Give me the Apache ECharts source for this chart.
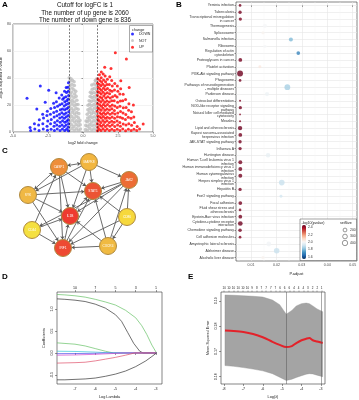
<!DOCTYPE html>
<html><head><meta charset="utf-8">
<script src="https://cdn.jsdelivr.net/npm/echarts/dist/echarts.min.js"></script>
<style>html,body{margin:0;padding:0;background:#fff}#c{width:359px;height:400px}</style>
</head><body><div id="c"></div>
<script>
// ---------- Panel A: volcano ----------
const cutoff = 1, upCount = 2060, downCount = 836;
const notPts = [[-0.95,1.0],[-0.97,4.2],[-0.94,7.1],[-0.96,10.3],[-0.93,13.0],[-0.97,16.4],[-0.95,19.2],[-0.94,22.5],[-0.96,25.1],[-0.93,28.3],[-0.97,31.4],[-0.95,34.2],[-0.94,37.6],[-0.98,40.1],
[-0.79,2.6],[-0.81,5.4],[-0.78,8.7],[-0.80,11.5],[-0.77,14.6],[-0.81,17.3],[-0.79,20.8],[-0.78,23.4],[-0.80,26.7],[-0.82,29.5],[-0.78,32.6],[-0.80,35.4],[-0.76,38.3],[-0.86,39.5],
[-0.63,1.2],[-0.65,4.1],[-0.62,7.4],[-0.64,10.2],[-0.61,13.3],[-0.65,16.1],[-0.63,19.5],[-0.62,22.2],[-0.64,25.4],[-0.60,28.1],[-0.66,31.3],[-0.62,34.5],[-0.64,37.2],
[-0.47,2.4],[-0.49,5.6],[-0.46,8.3],[-0.48,11.7],[-0.45,14.4],[-0.50,17.6],[-0.47,20.3],[-0.44,23.5],[-0.49,26.4],[-0.52,30.1],
[-0.32,1.3],[-0.34,4.4],[-0.31,7.2],[-0.33,10.5],[-0.30,13.6],[-0.35,16.8],[-0.36,20.4],
[-0.18,2.2],[-0.20,5.3],[-0.22,8.6],
[0.18,1.8],[0.20,4.9],[0.22,8.1],
[0.32,1.1],[0.33,4.3],[0.31,7.6],[0.34,10.4],[0.30,13.2],[0.35,16.5],[0.36,19.8],
[0.47,2.7],[0.48,5.5],[0.46,8.8],[0.49,11.4],[0.45,14.7],[0.50,17.5],[0.47,20.6],[0.44,23.2],[0.51,26.3],[0.53,29.4],
[0.63,1.4],[0.64,4.6],[0.62,7.3],[0.65,10.6],[0.61,13.4],[0.66,16.2],[0.63,19.4],[0.60,22.7],[0.64,25.5],[0.62,28.6],[0.66,31.7],[0.63,34.8],
[0.79,2.3],[0.80,5.2],[0.78,8.4],[0.81,11.3],[0.77,14.5],[0.82,17.7],[0.79,20.5],[0.78,23.6],[0.80,26.2],[0.76,29.3],[0.81,32.4],[0.79,35.6],[0.88,38.1],
[0.95,1.5],[0.96,4.4],[0.94,7.5],[0.97,10.1],[0.93,13.5],[0.96,16.3],[0.95,19.6],[0.94,22.4],[0.97,25.3],[0.93,28.5],[0.96,31.2],[0.95,34.6],[0.94,37.8],[0.97,39.2]];
const downPts = [[-1.04,1.0],[-1.06,3.6],[-1.03,6.2],[-1.07,9.1],[-1.05,12.3],[-1.02,15.0],[-1.06,18.2],[-1.04,21.1],[-1.07,24.3],[-1.03,27.0],[-1.05,30.2],[-1.08,33.1],[-1.04,36.5],
[-1.17,2.1],[-1.20,5.2],[-1.16,8.0],[-1.19,11.3],[-1.21,14.1],[-1.17,17.2],[-1.20,20.4],[-1.16,23.1],[-1.22,26.2],[-1.18,29.3],[-1.20,33.0],
[-1.31,1.2],[-1.34,4.1],[-1.30,7.3],[-1.33,10.2],[-1.35,13.1],[-1.31,16.4],[-1.34,19.2],[-1.30,22.5],[-1.36,25.3],[-1.32,30.1],
[-1.47,2.2],[-1.50,5.1],[-1.46,8.4],[-1.49,11.2],[-1.51,14.3],[-1.47,17.1],[-1.50,21.0],[-1.45,24.2],[-1.52,27.4],
[-1.64,1.1],[-1.67,4.3],[-1.63,7.2],[-1.66,10.4],[-1.68,13.2],[-1.62,16.5],[-1.66,20.1],[-1.70,25.2],
[-1.84,2.3],[-1.87,5.1],[-1.83,8.4],[-1.86,12.1],[-1.88,15.3],[-1.82,19.0],[-1.90,22.4],
[-2.04,1.2],[-2.07,4.3],[-2.02,7.1],[-2.06,11.2],[-2.09,14.4],[-2.03,18.1],[-2.10,21.3],
[-2.28,2.1],[-2.32,6.2],[-2.27,9.3],[-2.33,13.1],[-2.30,17.4],
[-2.54,1.3],[-2.57,4.2],[-2.52,8.1],[-2.58,12.2],[-2.55,15.3],
[-2.84,2.2],[-2.87,6.1],[-2.82,10.3],[-2.88,13.2],
[-3.14,1.1],[-3.17,5.2],[-3.12,9.1],[-3.44,2.3],[-3.47,6.2],[-3.74,1.2],[-3.78,3.4],
[-2.45,31],[-3.05,34],[-4.0,25],[-2.7,22],[-3.3,17],[-1.92,29]];
const upPts = [[1.04,1.0],[1.06,3.5],[1.03,6.1],[1.07,9.2],[1.05,12.1],[1.02,15.3],[1.06,18.0],[1.04,21.2],[1.07,24.1],[1.03,27.3],[1.05,30.0],[1.08,33.2],[1.04,36.1],[1.06,39.5],
[1.16,2.1],[1.19,5.2],[1.15,8.1],[1.18,11.3],[1.20,14.0],[1.16,17.2],[1.19,20.1],[1.15,23.3],[1.21,26.0],[1.17,29.2],[1.19,32.1],[1.15,35.3],[1.20,38.2],[1.17,42.5],
[1.29,1.1],[1.32,4.2],[1.28,7.0],[1.31,10.3],[1.33,13.1],[1.29,16.2],[1.32,19.0],[1.28,22.3],[1.34,25.1],[1.30,28.2],[1.32,31.0],[1.28,34.3],[1.33,37.1],[1.30,40.2],[1.31,44.5],
[1.43,2.5],[1.46,5.4],[1.42,8.6],[1.45,11.5],[1.47,14.3],[1.43,17.6],[1.46,20.4],[1.42,23.5],[1.48,26.6],[1.44,29.4],[1.46,32.5],[1.42,35.3],[1.47,38.6],[1.44,43.0],
[1.57,1.2],[1.60,4.1],[1.56,7.3],[1.59,10.1],[1.61,13.2],[1.57,16.1],[1.60,19.3],[1.56,22.0],[1.62,25.2],[1.58,28.1],[1.60,31.3],[1.56,34.0],[1.61,37.2],[1.58,41.5],
[1.72,2.2],[1.75,5.1],[1.71,8.3],[1.74,11.0],[1.76,14.2],[1.72,17.1],[1.75,20.3],[1.71,23.0],[1.77,26.2],[1.73,29.1],[1.75,32.3],[1.71,35.1],[1.74,39.0],
[1.89,1.1],[1.92,4.3],[1.88,7.0],[1.91,10.2],[1.93,13.1],[1.89,16.3],[1.92,19.0],[1.88,22.2],[1.94,25.1],[1.90,28.3],[1.92,31.0],[1.88,35.2],[1.91,41.0],
[2.06,2.1],[2.09,5.3],[2.05,8.0],[2.08,11.2],[2.10,14.1],[2.06,17.3],[2.09,20.0],[2.05,23.2],[2.11,26.1],[2.07,30.2],[2.09,34.0],[2.05,38.1],
[2.24,1.2],[2.27,4.0],[2.23,7.2],[2.26,10.1],[2.28,13.3],[2.24,16.0],[2.27,19.2],[2.23,23.1],[2.29,27.0],[2.25,31.2],[2.27,36.0],
[2.44,2.0],[2.47,5.2],[2.43,8.1],[2.46,11.3],[2.48,14.0],[2.44,18.2],[2.47,22.1],[2.43,26.0],[2.49,30.2],[2.45,34.1],
[2.64,1.1],[2.67,4.2],[2.63,7.1],[2.66,11.0],[2.68,15.2],[2.64,19.1],[2.67,23.0],[2.63,28.1],[2.69,32.0],
[2.84,2.2],[2.87,6.0],[2.83,10.2],[2.86,14.1],[2.88,18.0],[2.84,23.2],[2.87,28.0],
[3.04,1.0],[3.07,5.1],[3.03,9.2],[3.06,13.0],[3.08,18.1],[3.04,24.0],
[3.24,2.1],[3.27,6.2],[3.23,11.0],[3.26,16.1],[3.28,21.0],
[3.44,1.2],[3.47,5.0],[3.43,10.1],[3.46,15.0],[3.64,2.0],[3.67,7.1],[3.63,11.2],[3.84,1.1],[3.87,4.0],[4.04,2.2],
[2.31,58.7],[3.1,54],[2.0,47],[1.55,48],[3.3,33],[2.7,38],[3.6,20],[4.3,6]];
const aXTicks = [-5, -2.5, 0, 2.5, 5];
const aYTicks = [0, 20, 40, 60, 80];

// ---------- Panel B: KEGG bubble ----------
const bPathways = ['Yersinia infection','Tuberculosis','Transcriptional misregulation\nin cancer','Thermogenesis','Spliceosome','Salmonella infection','Ribosome','Regulation of actin\ncytoskeleton','Proteoglycans in cancer','Platelet activation','PI3K-Akt signaling pathway','Phagosome','Pathways of neurodegeneration\n- multiple diseases','Parkinson disease','Osteoclast differentiation','NOD-like receptor signaling\npathway','Natural killer cell mediated\ncytotoxicity','Measles','Lipid and atherosclerosis','Kaposi sarcoma-associated\nherpesvirus infection','JAK-STAT signaling pathway','Influenza A','Huntington disease','Human T-cell leukemia virus 1\ninfection','Human immunodeficiency virus 1\ninfection','Human cytomegalovirus\ninfection','Herpes simplex virus 1\ninfection','Hepatitis B','FoxO signaling pathway','Focal adhesion','Fluid shear stress and\natherosclerosis','Epstein-Barr virus infection','Cytokine-cytokine receptor\ninteraction','Chemokine signaling pathway','Cell adhesion molecules','Amyotrophic lateral sclerosis','Alzheimer disease','Alcoholic liver disease'];
const bPadj = [0.0057,0.0057,0.0058,0.0155,0.0147,0.0257,0.0155,0.0286,0.0058,0.0135,0.0057,0.0057,0.0243,0.0163,0.0057,0.0058,0.0057,0.0057,0.0057,0.0058,0.0057,0.0057,0.0167,0.0058,0.0058,0.0058,0.0221,0.0057,0.0218,0.0058,0.0057,0.0058,0.0058,0.0057,0.0057,0.0170,0.0201,0.0147];
const bLogP = [2.45,2.45,2.44,2.00,2.02,1.80,2.00,1.70,2.45,2.05,2.46,2.45,1.85,1.98,2.44,2.45,2.44,2.44,2.46,2.45,2.45,2.45,1.97,2.45,2.45,2.45,1.90,2.45,1.92,2.45,2.44,2.45,2.46,2.45,2.44,1.99,1.90,2.02];
const bSetSize = [100,150,150,230,130,220,150,190,190,120,480,100,460,250,60,150,45,60,260,190,150,150,280,210,210,210,440,150,120,190,100,190,300,170,100,320,420,150];
const bXTicks = [0.01,0.02,0.03,0.04,0.05];
const bXMinor = [0.005,0.015,0.025,0.035,0.045];
const bColorTicks = [2.4,2.2,2.0,1.8,1.6];
const bSizeLegend = [200,300,400];

// ---------- Panel C: PPI network ----------
const cNodes = ['CASP1','MAPK8','JAK2','STAT1','SYK','IL1B','CD86','CD44','IRF1','CXCR4'];
const cNodeX = [59,89,129,93,28,70,127,32,63,108];
const cNodeY = [19,14,32,43,47,68,69,82,100,98];
const cNodeColor = ['#EE8E3A','#F2B640','#EC6C34','#EC5434','#F0B844','#EE3A30','#F6D83C','#F5E040','#EE4A32','#F0BA42'];
const cEdges = [[1,0],[1,2],[1,4],[1,5],[1,3],[0,4],[0,3],[0,5],[0,8],[7,0],[4,3],[4,5],[4,8],[2,3],[2,5],[2,7],[2,8],[6,2],[6,3],[6,9],[6,8],[7,5],[7,8],[8,3],[8,5],[9,3],[9,5],[9,8],[9,2],[5,3]];
const cBidir = [[0,4],[1,0]];

// ---------- Panel D: LASSO coefficient paths ----------
const dTopPos = [-7,-6,-5,-4,-3];
const dTopLab = ['10','7','5','3','1'];
const dXTicks = [-7,-6,-5,-4,-3];
const dYTicks = [-0.5,0,0.5,1.0];
const dPaths = [
 {name:'g1', color:'#66c266', pts:[[-7.89,1.33],[-7.5,1.32],[-7,1.30],[-6.5,1.27],[-6,1.22],[-5.5,1.16],[-5,1.09],[-4.5,0.97],[-4,0.80],[-3.7,0.62],[-3.45,0.42],[-3.2,0.18],[-2.97,0]]},
 {name:'k1', color:'#333333', pts:[[-7.89,1.23],[-7.5,1.22],[-7,1.20],[-6.5,1.17],[-6,1.11],[-5.5,1.02],[-5,0.87],[-4.7,0.72],[-4.4,0.47],[-4.1,0.22],[-3.8,0.04],[-3.63,0],[-2.97,0]]},
 {name:'g2', color:'#66c266', pts:[[-7.89,0.23],[-7,0.20],[-6.5,0.16],[-6,0.10],[-5.5,0.04],[-5.1,0],[-2.97,0]]},
 {name:'c1', color:'#33c6d6', pts:[[-7.89,0.04],[-7,0.035],[-6,0.02],[-5.2,0],[-2.97,0]]},
 {name:'b1', color:'#4a4ae8', pts:[[-7.89,-0.015],[-7,-0.013],[-6,-0.007],[-5.5,0],[-2.97,0]]},
 {name:'m1', color:'#d04ad0', pts:[[-7.89,-0.05],[-7,-0.045],[-6,-0.03],[-5,-0.01],[-4.6,0],[-2.97,0]]},
 {name:'r1', color:'#e0506a', pts:[[-7.89,-0.23],[-7,-0.22],[-6.5,-0.21],[-6,-0.18],[-5.5,-0.14],[-5,-0.10],[-4.5,-0.05],[-4.05,0],[-2.97,0]]},
 {name:'k2', color:'#333333', pts:[[-7.89,-0.61],[-7.5,-0.61],[-7,-0.60],[-6.5,-0.59],[-6,-0.57],[-5.5,-0.53],[-5,-0.48],[-4.5,-0.41],[-4,-0.31],[-3.5,-0.18],[-3.2,-0.08],[-2.97,0]]}
];

// ---------- Panel E: CV curve ----------
const eLogLam = [-7.95,-7.5,-7.0,-6.5,-6.0,-5.5,-5.13,-4.79,-4.5,-4.27,-4.0,-3.76,-3.6,-3.42,-3.2,-2.91];
const eMean  = [0.1783,0.1781,0.1777,0.1769,0.1756,0.1738,0.1726,0.1717,0.1721,0.1733,0.1744,0.1750,0.1753,0.1744,0.1739,0.1733];
const eUpper = [0.1923,0.1922,0.1920,0.1918,0.1915,0.1903,0.1885,0.1847,0.1862,0.1880,0.1889,0.1891,0.1889,0.1880,0.1868,0.1857];
const eLower = [0.1644,0.1641,0.1636,0.1630,0.1623,0.1612,0.1598,0.1585,0.1590,0.1597,0.1604,0.1610,0.1612,0.1611,0.1606,0.1600];
const eVLines = [-4.79,-2.99];
const eXTicks = [-8,-7,-6,-5,-4,-3];
const eYTicks = [0.16,0.17,0.18,0.19];
const eTopPos = [-7.99,-7.75,-7.51,-7.27,-7.03,-6.79,-6.55,-6.31,-6.07,-5.83,-5.59,-5.35,-5.11,-4.87,-4.63,-4.39,-4.15,-3.91,-3.67,-3.43,-3.19,-2.96];
const eTopLab = ['10','10','10','10','10','10','9','8','7','7','7','7','6','6','6','4','4','4','3','2','2','1'];

// ====================================================
const FF = 'Liberation Sans, Arial, Helvetica, sans-serif';
const chart = echarts.init(document.getElementById('c'), null, {renderer:'canvas'});
const sizeOf = v => 0.27*Math.sqrt(v);
const nearestLab = (pos, lab) => v => { let bi=0, bd=1e9; pos.forEach((p,i)=>{const d=Math.abs(p-v); if(d<bd){bd=d;bi=i;}}); return lab[bi]; };
const tickLbl = {fontSize:3.6, color:'#4d4d4d', fontFamily:FF};
const rTick = {fontSize:3.6, color:'#222', fontFamily:FF};
const gridCommon = {show:true, backgroundColor:'#fff', borderColor:'#333', borderWidth:0.6, containLabel:false, outerBoundsMode:'none'};

const vmTop = 225, vmH = 34, vmMin = 1.54, vmMax = 2.47, vmLeft = 302;

const graphic = [
 {type:'text', x:2, y:1, style:{text:'A', font:'bold 8px '+FF, fill:'#000'}},
 {type:'text', x:176, y:1, style:{text:'B', font:'bold 8px '+FF, fill:'#000'}},
 {type:'text', x:2, y:147, style:{text:'C', font:'bold 8px '+FF, fill:'#000'}},
 {type:'text', x:2, y:273, style:{text:'D', font:'bold 8px '+FF, fill:'#000'}},
 {type:'text', x:188, y:273, style:{text:'E', font:'bold 8px '+FF, fill:'#000'}},
 {type:'text', x:85, y:2, style:{text:'Cutoff for logFC is '+cutoff+'\nThe number of up gene is '+upCount+'\nThe number of down gene is '+downCount, font:'6.3px '+FF, fill:'#111', textAlign:'center', lineHeight:7.4}},
 {type:'rect', shape:{x:129.5,y:25.5,width:23,height:26.5}, style:{fill:'#fff', stroke:'#555', lineWidth:0.5}, z:5},
 {type:'text', x:132, y:27.5, style:{text:'change', font:'3.8px '+FF, fill:'#222'}, z:6},
 {type:'rect', shape:{x:300,y:219,width:56.5,height:41.5}, style:{fill:'#fff', stroke:'#444', lineWidth:0.5}, z:5},
 {type:'text', x:301.5, y:220.5, style:{text:'-log10(pvalue)', font:'3.6px '+FF, fill:'#222'}, z:6},
 {type:'text', x:340, y:220.5, style:{text:'setSize', font:'3.6px '+FF, fill:'#222'}, z:6}
];
bColorTicks.forEach(v => {
  const y = vmTop + (vmMax - v)/(vmMax - vmMin)*vmH;
  graphic.push({type:'text', x:vmLeft+6, y:y, style:{text:v.toFixed(1), font:'3.4px '+FF, fill:'#333', textVerticalAlign:'middle'}, z:7});
});
bSizeLegend.forEach((v,i) => {
  const y = 230 + i*6.5;
  graphic.push({type:'circle', shape:{cx:345, cy:y, r:sizeOf(v)/2}, style:{fill:'none', stroke:'#333', lineWidth:0.5}, z:7});
  graphic.push({type:'text', x:350, y:y, style:{text:String(v), font:'3.4px '+FF, fill:'#333', textVerticalAlign:'middle'}, z:7});
});

const dSeries = dPaths.map(p => ({type:'line', xAxisIndex:4, yAxisIndex:3, data:p.pts, showSymbol:false, symbol:'none', lineStyle:{color:p.color, width:0.7}, silent:true, z:3}));

const option = {
 animation:false,
 textStyle:{fontFamily:FF},
 grid:[
  Object.assign({left:13, top:24, width:140, height:108}, gridCommon),
  Object.assign({left:236, top:2, width:121, height:259}, gridCommon),
  {left:0, top:148, width:145, height:114, show:false, containLabel:false, outerBoundsMode:'none'},
  Object.assign({left:57, top:292, width:105, height:92}, gridCommon),
  Object.assign({left:221, top:292, width:104, height:92}, gridCommon)
 ],
 xAxis:[
  {gridIndex:0, type:'value', min:-5, max:5, axisLine:{show:false},
   axisTick:{show:true, length:1.5, lineStyle:{color:'#333', width:0.5}, customValues:aXTicks},
   axisLabel:{...tickLbl, margin:2, customValues:aXTicks, formatter:v=>v.toFixed(1)},
   splitLine:{show:true, lineStyle:{color:'#ebebeb', width:0.6}},
   name:'log2 fold change', nameLocation:'middle', nameGap:9, nameTextStyle:{fontSize:4, color:'#222', fontFamily:FF}},
  {gridIndex:1, type:'value', min:0.0041, max:0.0517, axisLine:{show:false},
   axisTick:{show:true, length:1.5, lineStyle:{color:'#333', width:0.5}, customValues:bXTicks},
   axisLabel:{...tickLbl, margin:2, customValues:bXTicks, formatter:v=>v.toFixed(2)},
   splitLine:{show:true, lineStyle:{color:'#e6e6e6', width:0.6}},
   name:'P.adjust', nameLocation:'middle', nameGap:8, nameTextStyle:{fontSize:4, color:'#222', fontFamily:FF}},
  {gridIndex:1, type:'value', min:0.0041, max:0.0517, axisLine:{show:false},
   axisTick:{show:false, customValues:bXMinor}, axisLabel:{show:false, customValues:bXMinor},
   splitLine:{show:true, lineStyle:{color:'#f3f3f3', width:0.4}}},
  {gridIndex:2, type:'value', min:0, max:145, show:false},
  {gridIndex:3, type:'value', min:-7.89, max:-2.70, axisLine:{show:false},
   axisTick:{show:true, length:2, lineStyle:{color:'#333', width:0.5}, customValues:dXTicks},
   axisLabel:{...rTick, margin:2.5, customValues:dXTicks, formatter:v=>String(v)},
   splitLine:{show:false},
   name:'Log Lambda', nameLocation:'middle', nameGap:11, nameTextStyle:{fontSize:3.8, color:'#222', fontFamily:FF}},
  {gridIndex:3, type:'value', position:'top', min:-7.89, max:-2.70, axisLine:{show:false},
   axisTick:{show:true, length:2, lineStyle:{color:'#333', width:0.5}, customValues:dTopPos},
   axisLabel:{...rTick, margin:2.5, customValues:dTopPos, formatter:nearestLab(dTopPos, dTopLab)},
   splitLine:{show:false}},
  {gridIndex:4, type:'value', min:-8.155, max:-2.79, axisLine:{show:false},
   axisTick:{show:true, length:2, lineStyle:{color:'#333', width:0.5}, customValues:eXTicks},
   axisLabel:{...rTick, margin:2.5, customValues:eXTicks, formatter:v=>String(v)},
   splitLine:{show:false},
   name:'Log(\u03bb)', nameLocation:'middle', nameGap:11, nameTextStyle:{fontSize:3.8, color:'#222', fontFamily:FF}},
  {gridIndex:4, type:'value', position:'top', min:-8.155, max:-2.79, axisLine:{show:false},
   axisTick:{show:true, length:1.5, lineStyle:{color:'#333', width:0.4}, customValues:eTopPos},
   axisLabel:{...rTick, fontSize:3, margin:2, customValues:eTopPos, formatter:nearestLab(eTopPos, eTopLab)},
   splitLine:{show:false}}
 ],
 yAxis:[
  {gridIndex:0, type:'value', min:0, max:80, axisLine:{show:false},
   axisTick:{show:true, length:1.5, lineStyle:{color:'#333', width:0.5}, customValues:aYTicks},
   axisLabel:{...tickLbl, margin:2, customValues:aYTicks},
   splitLine:{show:true, lineStyle:{color:'#ebebeb', width:0.6}},
   name:'-log10 adjusted P-value', nameLocation:'middle', nameGap:7, nameRotate:90, nameTextStyle:{fontSize:4, color:'#222', fontFamily:FF}},
  {gridIndex:1, type:'value', inverse:true, min:-0.5, max:bPathways.length-0.5, axisLine:{show:false},
   axisTick:{show:true, length:1.5, lineStyle:{color:'#333', width:0.5}, customValues:bPathways.map((_,i)=>i)},
   axisLabel:{fontSize:3.5, color:'#333', fontFamily:FF, lineHeight:3.8, margin:2, customValues:bPathways.map((_,i)=>i), formatter:v=>bPathways[Math.round(v)]},
   splitLine:{show:true, lineStyle:{color:'#e6e6e6', width:0.6}}},
  {gridIndex:2, type:'value', min:0, max:114, inverse:true, show:false},
  {gridIndex:3, type:'value', min:-0.705, max:1.386, axisLine:{show:false},
   axisTick:{show:true, length:2, lineStyle:{color:'#333', width:0.5}, customValues:dYTicks},
   axisLabel:{...rTick, margin:3, rotate:90, customValues:dYTicks, formatter:v=>v.toFixed(1)},
   splitLine:{show:false},
   name:'Coefficients', nameLocation:'middle', nameGap:11, nameRotate:90, nameTextStyle:{fontSize:3.8, color:'#222', fontFamily:FF}},
  {gridIndex:4, type:'value', min:0.1571, max:0.1935, axisLine:{show:false},
   axisTick:{show:true, length:2, lineStyle:{color:'#333', width:0.5}, customValues:eYTicks},
   axisLabel:{...rTick, margin:3, rotate:90, customValues:eYTicks, formatter:v=>v.toFixed(2)},
   splitLine:{show:false},
   name:'Mean-Squared Error', nameLocation:'middle', nameGap:11, nameRotate:90, nameTextStyle:{fontSize:3.8, color:'#222', fontFamily:FF}}
 ],
 legend:{data:['DOWN','NOT','UP'], orient:'vertical', left:131, top:32, itemWidth:3, itemHeight:3, itemGap:2.6, icon:'circle', padding:0,
   textStyle:{fontSize:3.6, color:'#222', fontFamily:FF}, selectedMode:false, z:7},
 visualMap:{type:'continuous', seriesIndex:3, dimension:2, min:vmMin, max:vmMax, left:vmLeft, top:vmTop, itemWidth:4, itemHeight:vmH,
   padding:0, calculable:false, hoverLink:false, text:null, showLabel:false, z:8,
   inRange:{color:['#053061','#2166AC','#4393C3','#92C5DE','#D1E5F0','#F7F7F7','#FDDBC7','#F4A582','#D6604D','#B2182B','#67001F']}},
 graphic:graphic,
 series:[
  {name:'NOT', type:'scatter', xAxisIndex:0, yAxisIndex:0, data:notPts, symbolSize:3.6, itemStyle:{color:'#BEBEBE'}, silent:true},
  {name:'DOWN', type:'scatter', xAxisIndex:0, yAxisIndex:0, data:downPts, symbolSize:3, itemStyle:{color:'#0000FF'}, silent:true},
  {name:'UP', type:'scatter', xAxisIndex:0, yAxisIndex:0, data:upPts, symbolSize:3, itemStyle:{color:'#FF0000'}, silent:true,
   markLine:{silent:true, symbol:'none', label:{show:false}, lineStyle:{color:'#222', type:[2,1.5], width:0.6},
     data:[{xAxis:-cutoff},{xAxis:cutoff}]}},
  {name:'KEGG', type:'scatter', xAxisIndex:1, yAxisIndex:1,
   data:bPathways.map((p,i)=>[bPadj[i], i, bLogP[i], bSetSize[i]]),
   symbolSize:v=>sizeOf(v[3]), silent:true, z:3},
  {type:'graph', coordinateSystem:'cartesian2d', xAxisIndex:3, yAxisIndex:2, layout:'none',
   data:cNodes.map((n,i)=>({name:n, value:[cNodeX[i], cNodeY[i]], itemStyle:{color:cNodeColor[i], borderColor:'#B08A3E', borderWidth:1}})),
   links:cEdges.map(e=>{const bi = cBidir.some(b=>b[0]===e[0]&&b[1]===e[1]); return bi?{source:e[0], target:e[1], symbol:['arrow','arrow']}:{source:e[0], target:e[1]};}),
   symbolSize:17, edgeSymbol:['none','arrow'], edgeSymbolSize:3.5,
   lineStyle:{color:'#5a5a5a', width:0.9, opacity:1, curveness:0},
   label:{show:true, position:'inside', color:'#fff', fontSize:3.2, fontFamily:FF},
   silent:true, z:3},
  ...dSeries,
  {type:'custom', xAxisIndex:6, yAxisIndex:4, data:eLogLam.map((x,i)=>[x, eLower[i], eUpper[i]]),
   encode:{x:0, y:[1,2]}, silent:true, z:2,
   renderItem:function(params, api){
     if (params.dataIndex !== 0) return null;
     const pts = [];
     for (let i=0;i<eLogLam.length;i++) pts.push(api.coord([eLogLam[i], eUpper[i]]));
     for (let i=eLogLam.length-1;i>=0;i--) pts.push(api.coord([eLogLam[i], eLower[i]]));
     return {type:'polygon', shape:{points:pts}, style:{fill:'#A4A4A4', stroke:'#8f8f8f', lineWidth:0.4}};
   }},
  {type:'line', xAxisIndex:6, yAxisIndex:4, data:eLogLam.map((x,i)=>[x, eMean[i]]), smooth:0.3, showSymbol:false, symbol:'none',
   lineStyle:{color:'#E3222A', width:2}, silent:true, z:4,
   markLine:{silent:true, symbol:'none', label:{show:false}, lineStyle:{color:'#555', type:'solid', width:0.5},
     data:eVLines.map(v=>({xAxis:v}))}}
 ]
};
chart.setOption(option);
</script>
</body></html>
